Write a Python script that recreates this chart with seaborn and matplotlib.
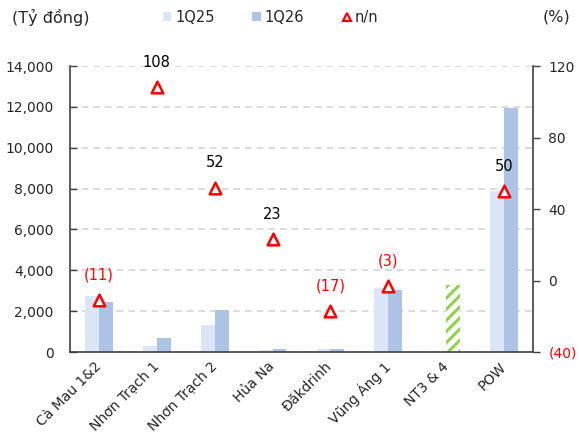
import numpy as np
import pandas as pd
import matplotlib
matplotlib.use("Agg")
import matplotlib.pyplot as plt
from matplotlib.lines import Line2D
from matplotlib.patches import Patch
import seaborn as sns

categories = ["Cà Mau 1&2", "Nhơn Trạch 1", "Nhơn Trạch 2", "Hủa Na", "Đăkdrinh",
              "Vũng Áng 1", "NT3 & 4", "POW"]
q25 = [2740, 310, 1340, 110, 160, 3130, np.nan, 7900]
q26 = [2450, 700, 2060, 160, 130, 3030, 3280, 11930]
yoy = [-11, 108, 52, 23, -17, -3, np.nan, 50]
left_ticks = [0, 2000, 4000, 6000, 8000, 10000, 12000, 14000]
right_ticks = [-40, 0, 40, 80, 120]

C25 = "#dce5f5"
C26 = "#adc3e6"
GREEN = "#92d050"
RED = "#ff0000"

sns.set_style("white")
plt.rcParams["font.family"] = ["DejaVu Sans"]
plt.rcParams["hatch.linewidth"] = 2.2

df = pd.DataFrame({
    "cat": categories * 2,
    "period": ["1Q25"] * len(categories) + ["1Q26"] * len(categories),
    "value": q25 + q26,
})

fig = plt.figure(figsize=(5.79, 4.41), dpi=100)
ax = fig.add_axes([0.121, 0.2018, 0.7996, 0.6485])

sns.barplot(data=df, x="cat", y="value", hue="period", palette=[C25, C26],
            width=0.48, saturation=1, gap=0, ax=ax, legend=False, zorder=2,
            linewidth=0, edgecolor="none")

# hatched NT3 & 4 bar (1Q26 slot)
idx = categories.index("NT3 & 4")
hb = ax.containers[1][idx]
hb.set_facecolor("white")
hb.set_edgecolor(GREEN)
hb.set_hatch("///")
hb.set_linewidth(0)

ax.set_ylim(0, 14000)
ax.set_xlim(-0.5, len(categories) - 0.5)
ax.set_yticks(left_ticks)
ax.set_yticklabels([f"{v:,}" for v in left_ticks], fontsize=10)
ax.yaxis.grid(True, linestyle=(0, (4, 3)), color="#d4d4d4", linewidth=1.2, zorder=0)
ax.set_axisbelow(True)
ax.set_xlabel("")
ax.set_ylabel("")
ax.set_xticks(range(len(categories)))
ax.set_xticklabels(categories, rotation=45, ha="right", va="center",
                   rotation_mode="anchor", fontsize=10)
ax.tick_params(axis="x", which="major", length=0, pad=9)
ax.set_xticks(np.arange(0.5, len(categories) - 0.5, 1), minor=True)
ax.tick_params(axis="x", which="minor", direction="in", length=5, width=1, color="#404040")
ax.tick_params(axis="y", direction="in", length=5, width=1, color="#404040", pad=12)
for s in ["left", "bottom"]:
    ax.spines[s].set_color("#404040")
    ax.spines[s].set_linewidth(1.2)
ax.spines["top"].set_visible(False)
ax.spines["right"].set_visible(False)

ax2 = ax.twinx()
xs = np.array([i for i, v in enumerate(yoy) if not np.isnan(v)])
ys = np.array([v for v in yoy if not np.isnan(v)])
sns.scatterplot(x=xs, y=ys, ax=ax2, marker="^", s=70, facecolor="white",
                edgecolor=RED, linewidth=1.8, zorder=5, legend=False)
ax2.set_ylim(-40, 120)
ax2.set_yticks(right_ticks)
ax2.set_yticklabels(["(40)", "0", "40", "80", "120"], fontsize=10)
ax2.get_yticklabels()[0].set_color(RED)
ax2.tick_params(axis="y", direction="out", length=5, width=1, color="#404040", pad=6)
ax2.spines["right"].set_color("#404040")
ax2.spines["right"].set_linewidth(1.2)
for s in ["top", "left", "bottom"]:
    ax2.spines[s].set_visible(False)
ax2.set_xlim(-0.5, len(categories) - 0.5)

for x, v in zip(xs, ys):
    if v < 0:
        txt, col = f"({abs(int(v))})", RED
    else:
        txt, col = f"{int(v)}", "black"
    ax2.annotate(txt, (x, v), xytext=(0, 18), textcoords="offset points",
                 ha="center", va="center", fontsize=10.5, color=col)

fig.text(0.02, 0.961, "(Tỷ đồng)", fontsize=11.5, ha="left", va="center")
fig.text(0.985, 0.961, "(%)", fontsize=11.5, ha="right", va="center")

handles = [Patch(facecolor=C25, edgecolor="none"),
           Patch(facecolor=C26, edgecolor="none"),
           Line2D([], [], marker="^", linestyle="none", markerfacecolor="white",
                  markeredgecolor=RED, markeredgewidth=1.6, markersize=6)]
fig.legend(handles, ["1Q25", "1Q26", "n/n"], loc="center", bbox_to_anchor=(0.467, 0.961),
           ncol=3, frameon=False, fontsize=10.5, handlelength=0.6, handleheight=0.6,
           handletextpad=0.25, columnspacing=2.6)

fig.savefig("out.png", dpi=100)
